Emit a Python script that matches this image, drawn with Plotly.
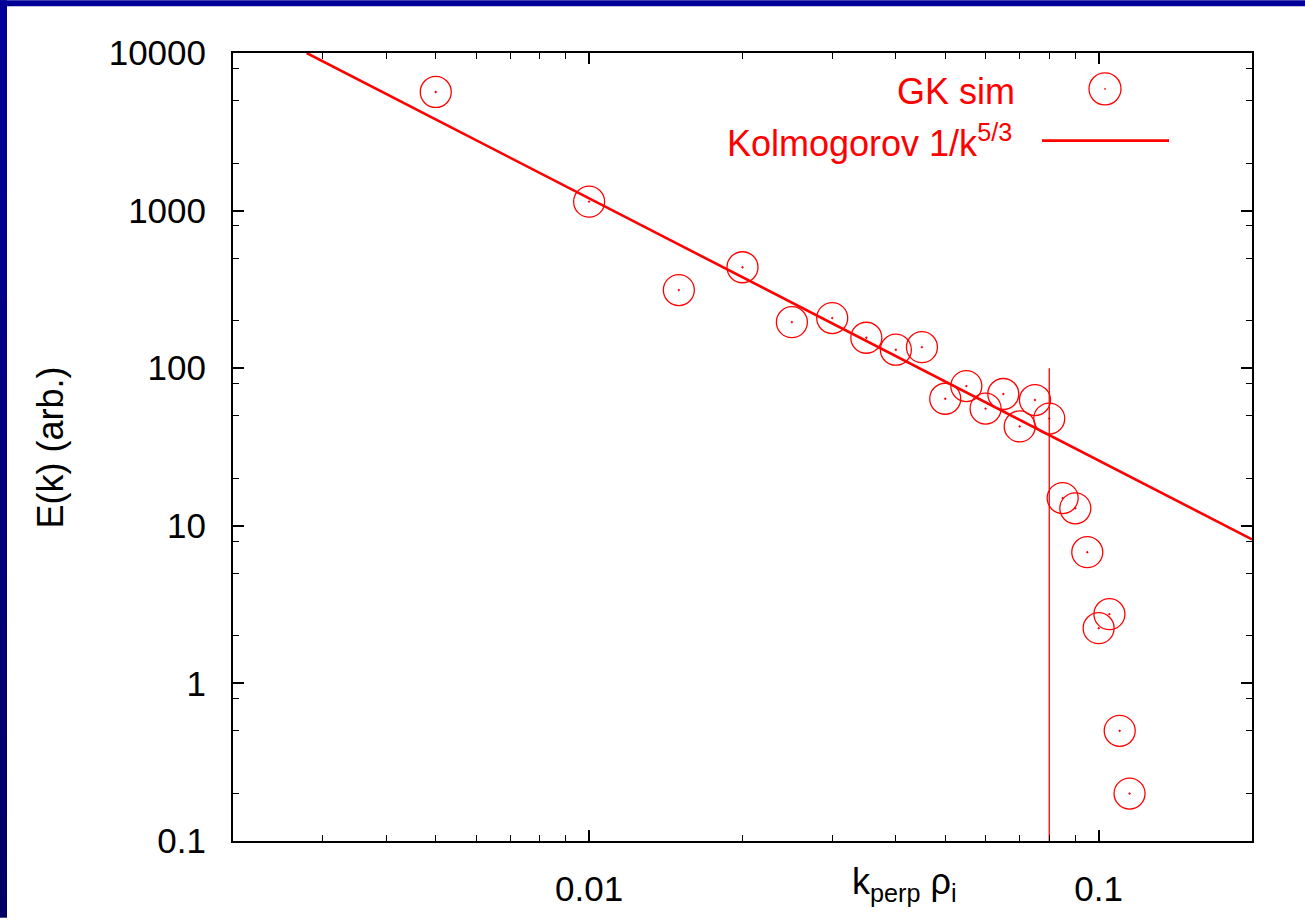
import plotly.graph_objects as go

# ---- data ----
k_sim = [0.005, 0.01, 0.015, 0.02, 0.025, 0.03, 0.035, 0.04, 0.045, 0.05, 0.055, 0.06,
         0.065, 0.07, 0.075, 0.08, 0.085, 0.09, 0.095, 0.1, 0.105, 0.11, 0.115]
E_sim = [5660, 1140, 313, 437, 196, 208, 156, 131, 136, 64, 77, 55.4,
         68.6, 42.7, 62.8, 47.9, 15.0, 12.9, 6.8, 2.24, 2.75, 0.5, 0.2]

kol_k = [0.00279, 0.2]        # Kolmogorov 1/k^(5/3) line end points
kol_E = [10000, 8.2]

cut_k = [0.08, 0.08]          # vertical marker line
cut_E = [100, 0.1]

x_ticks = [0.01, 0.1]
x_ticklabels = ["0.01", "0.1"]
y_ticks = [0.1, 1, 10, 100, 1000, 10000]
y_ticklabels = ["0.1", "1", "10", "100", "1000", "10000"]
y_minor = [m * 10 ** e for e in range(-1, 4) for m in (2, 5, 8)]

RED = "#ff0000"
FONT = "Liberation Sans, Arial, Helvetica, sans-serif"

W, H = 1305, 920
L, R, T, B = 233, 1252, 53, 844   # plot area pixels


def px(xp):
    return (xp - L) / (R - L)


def py(yp):
    return (B - yp) / (B - T)


fig = go.Figure()

fig.add_trace(go.Scatter(
    x=k_sim, y=E_sim, mode="markers", name="GK sim",
    marker=dict(symbol="circle-open-dot", size=31, color=RED, line=dict(width=1.3, color=RED)),
))
fig.add_trace(go.Scatter(
    x=kol_k, y=kol_E, mode="lines", name="Kolmogorov 1/k^5/3",
    line=dict(color=RED, width=2.6),
))
fig.add_trace(go.Scatter(
    x=cut_k, y=cut_E, mode="lines", showlegend=False,
    line=dict(color=RED, width=1.3),
))

axis_common = dict(
    type="log", showline=True, linecolor="black", linewidth=2, mirror="ticks",
    ticks="inside", ticklen=11, tickwidth=1.6, tickcolor="black",
    showgrid=False, zeroline=False, layer="above traces",
    tickfont=dict(family=FONT, size=35, color="black"),
)

fig.update_xaxes(
    **axis_common,
    range=[-2.69897, -0.69897],
    tickmode="array", tickvals=x_ticks, ticktext=x_ticklabels,
    ticklabelstandoff=16,
    minor=dict(ticks="inside", ticklen=6, tickwidth=1.4, tickcolor="black", dtick="D1", showgrid=False),
)
fig.update_yaxes(
    **axis_common,
    range=[-1, 4],
    tickmode="array", tickvals=y_ticks, ticktext=y_ticklabels,
    ticklabelstandoff=18,
    minor=dict(ticks="inside", ticklen=6, tickwidth=1.4, tickcolor="black",
               tickmode="array", tickvals=y_minor, showgrid=False),
)

shapes = []
# blue frame: top bar and left bar with a vertical gradient
shapes.append(dict(type="rect", xref="paper", yref="paper", layer="below",
                   x0=px(0), x1=px(W), y0=py(0), y1=py(6),
                   fillcolor="#000099", line=dict(width=0)))
nseg = 46
for i in range(nseg):
    t = i / (nseg - 1)
    b = int(round(153 - (153 - 100) * t))
    shapes.append(dict(type="rect", xref="paper", yref="paper", layer="below",
                       x0=px(0), x1=px(7), y0=py(i * H / nseg), y1=py((i + 1) * H / nseg + 1),
                       fillcolor=f"rgb(0,0,{b})", line=dict(width=0)))

# legend samples (gnuplot style: text right, sample on right)
shapes.append(dict(type="circle", xref="paper", yref="paper", xsizemode="pixel", ysizemode="pixel",
                   xanchor=px(1105), yanchor=py(89), x0=-16, x1=16, y0=-16, y1=16,
                   line=dict(color=RED, width=1.3)))
shapes.append(dict(type="circle", xref="paper", yref="paper", xsizemode="pixel", ysizemode="pixel",
                   xanchor=px(1105), yanchor=py(89), x0=-0.7, x1=0.7, y0=-0.7, y1=0.7,
                   fillcolor=RED, line=dict(color=RED, width=0.5)))
shapes.append(dict(type="line", xref="paper", yref="paper",
                   x0=px(1042), x1=px(1169), y0=py(141), y1=py(141),
                   line=dict(color=RED, width=2.6)))

annotations = [
    dict(text="GK sim", xref="paper", yref="paper", x=px(1017), y=py(92),
         xanchor="right", yanchor="middle", showarrow=False,
         font=dict(family=FONT, size=36, color=RED)),
    dict(text="Kolmogorov 1/k<sup>5/3</sup>", xref="paper", yref="paper", x=px(1014), y=py(141),
         xanchor="right", yanchor="middle", showarrow=False,
         font=dict(family=FONT, size=36, color=RED)),
    dict(text="k<sub>perp</sub> ρ<sub>i</sub>", xref="paper", yref="paper", x=px(904), y=py(887),
         xanchor="center", yanchor="middle", showarrow=False,
         font=dict(family=FONT, size=36, color="black")),
    dict(text="E(k) (arb.)", xref="paper", yref="paper", x=px(50), y=py(449),
         xanchor="center", yanchor="middle", textangle=-90, showarrow=False,
         font=dict(family=FONT, size=36, color="black")),
]

fig.update_layout(
    width=W, height=H,
    margin=dict(l=L, r=W - R, t=T, b=H - B, pad=0),
    paper_bgcolor="white", plot_bgcolor="white",
    showlegend=False,
    shapes=shapes, annotations=annotations,
)

fig.write_html(
    "out.html",
    config={"displayModeBar": False},
    post_script="document.body.style.margin='0px';document.body.style.padding='0px';"
                "document.body.style.overflow='hidden';",
)
